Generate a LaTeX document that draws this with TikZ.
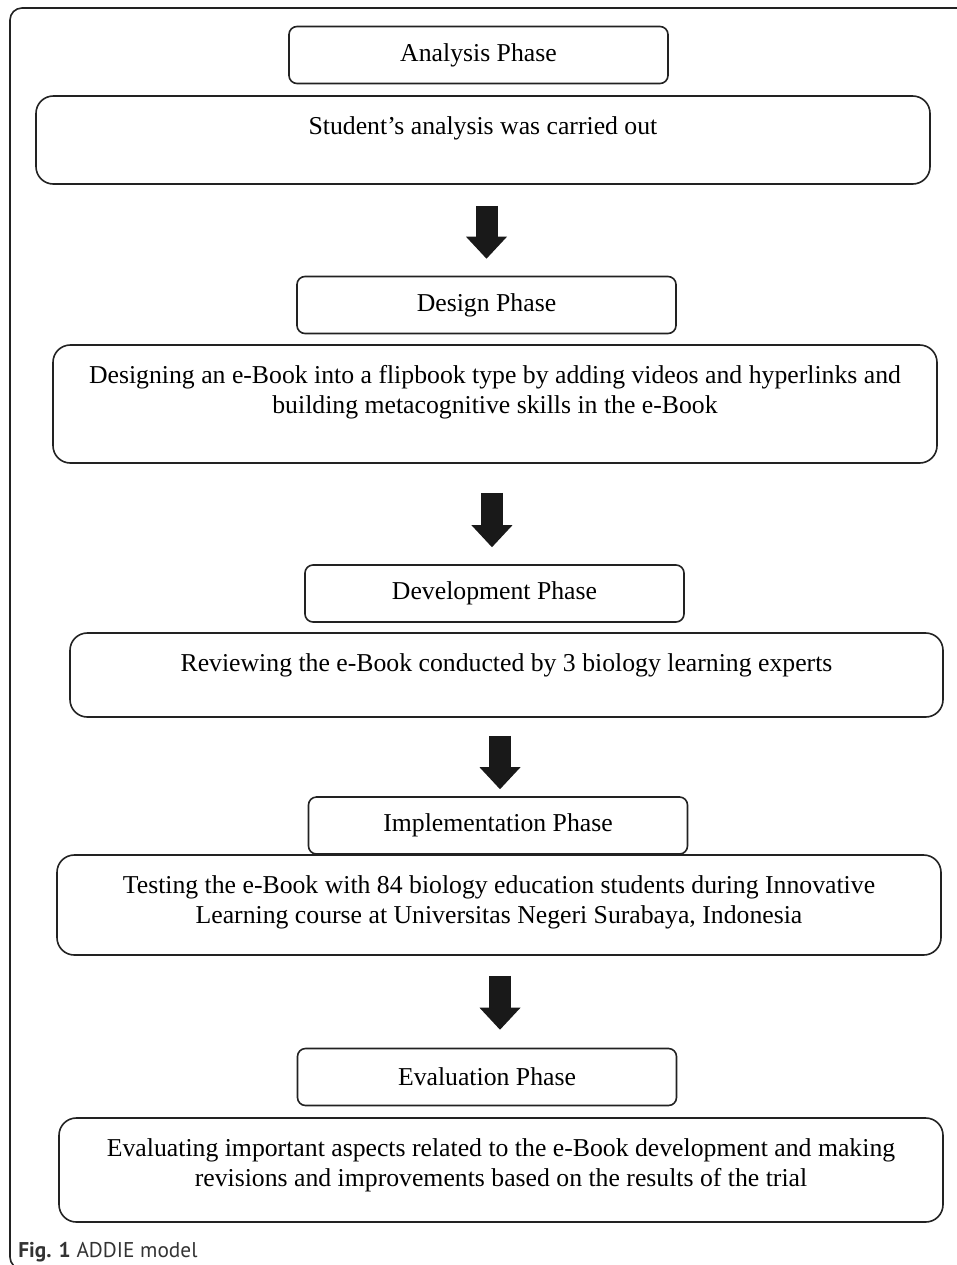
\documentclass[tikz,border=0pt]{standalone}
\usepackage{fontspec}
\setmainfont{Liberation Serif}
\newfontfamily\capfont{PT Sans}
\usetikzlibrary{positioning,arrows.meta}
\definecolor{linegray}{HTML}{222222}
\tikzset{
  phasebox/.style={draw=linegray, line width=1.2pt, rounded corners=6pt, minimum width=284.25pt, minimum height=42.75pt, font=\fontsize{19.3}{23}\selectfont},
  bigbox/.style={draw=linegray, line width=1.2pt, rounded corners=13pt},
  boxtext/.style={inner sep=0pt, align=center, font=\fontsize{19.3}{22.5}\selectfont},
  blockarrow/.style={draw=black!90, line width=16.5pt, -{Triangle[width=30.75pt,length=16.5pt,line width=0pt]}}
}
\begin{document}
\begin{tikzpicture}[x=0.75pt, y=-0.75pt]
  \useasboundingbox (0,0) rectangle (957,1265);
  \clip (0,0) rectangle (957,1265);
  % outer frame
  \draw[draw=linegray, line width=1.2pt, rounded corners=9pt] (10,8) rectangle (975,1269);
  % phase titles
  \foreach \n/\x/\y/\txt in {analysis/478.5/55/Analysis Phase, design/486.5/305/Design Phase, development/494.5/593.5/Development Phase, implementation/498/825.5/Implementation Phase, evaluation/487/1077/Evaluation Phase}{
      \node[phasebox] (\n) at (\x,\y) {\txt};
  }
  % detail boxes
  \node[bigbox, minimum width=670.5pt, minimum height=66pt] (student) at (483,140) {};
  \node[bigbox, minimum width=663pt, minimum height=88.5pt] (designing) at (495,404) {};
  \node[bigbox, minimum width=654.75pt, minimum height=63pt] (reviewing) at (506.5,675) {};
  \node[bigbox, minimum width=663pt, minimum height=75pt] (testing) at (499,905) {};
  \node[bigbox, minimum width=663pt, minimum height=78pt] (evaluating) at (501,1170) {};
  \node[boxtext, below=15.75pt of student.north] (studenttext) {Student’s analysis was carried out};
  \node[boxtext, below=15.75pt of designing.north] (designingtext) {Designing an e-Book into a flipbook type by adding videos and hyperlinks and\\ building metacognitive skills in the e-Book};
  \node[boxtext, below=15.75pt of reviewing.north] (reviewingtext) {Reviewing the e-Book conducted by 3 biology learning experts};
  \node[boxtext, below=15.75pt of testing.north] (testingtext) {Testing the e-Book with 84 biology education students during Innovative\\ Learning course at Universitas Negeri Surabaya, Indonesia};
  \node[boxtext, below=15.75pt of evaluating.north] (evaluatingtext) {Evaluating important aspects related to the e-Book development and making\\ revisions and improvements based on the results of the trial};
  % arrows
  \foreach \a/\b/\s/\e/\dx in {student/design/15.75pt/12.75pt/0pt, designing/development/21.75pt/12.75pt/-1.9pt, reviewing/implementation/13.5pt/5.25pt/1.5pt, testing/evaluation/15pt/13.5pt/9.75pt}{
      \draw[blockarrow, shorten <=\s, shorten >=\e] ([xshift=\dx]\a.south -| \b.north) -- ([xshift=\dx]\b.north);
  }
  % caption
  \node[anchor=base west, inner sep=0pt, font=\capfont\fontsize{16}{19}\selectfont, text=black!80] (caption) at (18,1257) {\textbf{Fig. 1} ADDIE model};
\end{tikzpicture}
\end{document}
